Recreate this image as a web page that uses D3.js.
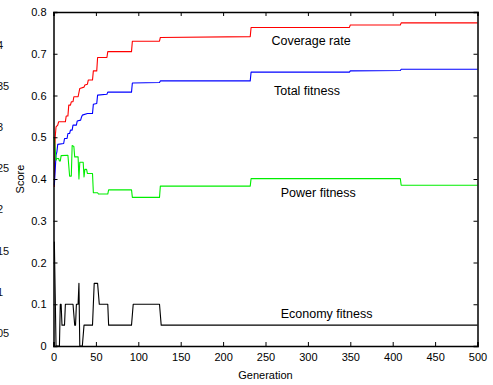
<!DOCTYPE html>
<html>
<head>
<meta charset="utf-8">
<script src="https://cdn.jsdelivr.net/npm/d3@7"></script>
<style>
  html, body { margin: 0; padding: 0; background: #fff; }
  svg { display: block; font-family: "Liberation Sans", Arial, sans-serif; }
</style>
</head>
<body>
<svg id="chart" width="493" height="385"></svg>
<script>
// Fitness scores over the generations of the search, [generation, score] breakpoints
const coverageRate = [
  [1, 0.381], [2, 0.50], [3, 0.525], [5, 0.529], [6, 0.537], [14, 0.537], [15, 0.551],
  [17, 0.551], [18, 0.577], [20, 0.577], [21, 0.585], [23, 0.585], [24, 0.597], [29, 0.597],
  [31, 0.617], [36, 0.620], [37, 0.625], [40, 0.627], [41, 0.637], [46, 0.637], [47, 0.659],
  [51, 0.659], [52, 0.691], [63, 0.691], [64, 0.705], [92, 0.705], [93, 0.730], [125, 0.730],
  [126, 0.739], [232, 0.741], [233, 0.763], [349, 0.763], [350, 0.769], [409, 0.769],
  [410, 0.774], [500, 0.774]
];
const totalFitness = [
  [1, 0.385], [3, 0.457], [4, 0.465], [5, 0.483], [12, 0.485], [13, 0.497], [16, 0.497],
  [17, 0.509], [19, 0.509], [20, 0.517], [22, 0.517], [23, 0.529], [27, 0.529], [28, 0.539],
  [32, 0.541], [33, 0.548], [34, 0.553], [40, 0.557], [46, 0.557], [47, 0.579], [51, 0.581],
  [52, 0.601], [63, 0.603], [64, 0.608], [92, 0.608], [93, 0.630], [125, 0.631], [126, 0.635],
  [232, 0.635], [233, 0.656], [349, 0.656], [350, 0.659], [409, 0.660], [410, 0.663], [500, 0.663]
];
const powerFitness = [
  [1, 0.497], [3, 0.445], [4, 0.449], [6, 0.449], [7, 0.443], [8, 0.443], [9, 0.456],
  [17, 0.457], [19, 0.407], [21, 0.407], [22, 0.480], [24, 0.478], [25, 0.453], [29, 0.453],
  [30, 0.400], [31, 0.440], [35, 0.440], [36, 0.405], [37, 0.423], [39, 0.423], [40, 0.413],
  [46, 0.413], [47, 0.367], [52, 0.367], [53, 0.364], [64, 0.364], [65, 0.374], [92, 0.374],
  [93, 0.356], [125, 0.356], [126, 0.383], [232, 0.383], [233, 0.401], [409, 0.401],
  [410, 0.385], [500, 0.385]
];
const economyFitness = [
  [1, 0.25], [3, 0], [7, 0], [8, 0.1], [9, 0.1], [10, 0.05], [13, 0.05], [14, 0.1], [23, 0.1],
  [25, 0.05], [26, 0.05], [27, 0.1], [29, 0.1], [30, 0.15], [31, 0], [34, 0], [36, 0.05],
  [46, 0.05], [48, 0.15], [52, 0.15], [54, 0.1], [64, 0.1], [65, 0.05], [92, 0.05], [94, 0.1],
  [125, 0.1], [127, 0.05], [500, 0.05]
];

const seriesNames  = ["Coverage rate", "Total fitness", "Power fitness", "Economy fitness"];
const seriesColors = ["#ff0000", "#0000ff", "#00ee00", "#000000"];
const seriesData   = [coverageRate, totalFitness, powerFitness, economyFitness];
// where each series name is written: [generation, score] of the text baseline start
const labelAnchors = [[257, 0.722], [260, 0.602], [268, 0.357], [268, 0.066]];

const xTicks = [0, 50, 100, 150, 200, 250, 300, 350, 400, 450, 500];
const yTicks = [0, 0.1, 0.2, 0.3, 0.4, 0.5, 0.6, 0.7, 0.8];
// tick labels of the neighbouring panel, cut by the page edge
const sideTicks = [0.05, 0.1, 0.15, 0.2, 0.25, 0.3, 0.35, 0.4];

const svg = d3.select("#chart");
const m = { left: 53.5, right: 477.5, top: 12, bottom: 346 };

const x = d3.scaleLinear().domain([0, 500]).range([m.left, m.right]);
const y = d3.scaleLinear().domain([0, 0.8]).range([m.bottom, m.top]);
const ySide = d3.scaleLinear().domain([0.05, 0.4]).range([333, 45]);

// neighbouring panel labels (mostly off the page)
svg.append("g")
  .selectAll("text").data(sideTicks).join("text")
  .attr("x", -12.2)
  .attr("y", d => ySide(d))
  .attr("dy", "0.35em")
  .attr("font-size", 11)
  .attr("fill", "#111")
  .text(d => String(d));

// series
const line = d3.line().x(d => x(d[0])).y(d => y(d[1]));
svg.append("g")
  .selectAll("path").data(seriesData).join("path")
  .attr("d", line)
  .attr("fill", "none")
  .attr("stroke", (d, i) => seriesColors[i])
  .attr("stroke-width", 1.1)
  .attr("stroke-linejoin", "round");

// frame and inward ticks on all four sides
const tk = 4;
svg.append("g").attr("transform", `translate(0,${m.bottom})`)
  .call(d3.axisBottom(x).tickValues(xTicks).tickSize(-tk).tickPadding(7).tickFormat(d3.format("d")));
svg.append("g").attr("transform", `translate(0,${m.top})`)
  .call(d3.axisTop(x).tickValues(xTicks).tickSize(-tk).tickFormat(""));
svg.append("g").attr("transform", `translate(${m.left},0)`)
  .call(d3.axisLeft(y).tickValues(yTicks).tickSize(-tk).tickPadding(7).tickFormat(d => d === 0 ? "0" : d3.format(".1f")(d)));
svg.append("g").attr("transform", `translate(${m.right},0)`)
  .call(d3.axisRight(y).tickValues(yTicks).tickSize(-tk).tickFormat(""));

svg.selectAll(".domain").attr("stroke", "#000").attr("stroke-width", 1.5);
svg.selectAll(".tick line").attr("stroke", "#000");
svg.selectAll(".tick text").attr("font-size", 11).attr("fill", "#000")
  .attr("font-family", "Liberation Sans, Arial, sans-serif");

// axis titles
svg.append("text")
  .attr("x", (m.left + m.right) / 2).attr("y", 379)
  .attr("text-anchor", "middle").attr("font-size", 11)
  .text("Generation");
svg.append("text")
  .attr("transform", `translate(24,${(m.top + m.bottom) / 2}) rotate(-90)`)
  .attr("text-anchor", "middle").attr("font-size", 11)
  .text("Score");

// series names
svg.append("g")
  .selectAll("text").data(seriesNames).join("text")
  .attr("x", (d, i) => x(labelAnchors[i][0]))
  .attr("y", (d, i) => y(labelAnchors[i][1]))
  .attr("font-size", 12.5)
  .text(d => d);
</script>
</body>
</html>
